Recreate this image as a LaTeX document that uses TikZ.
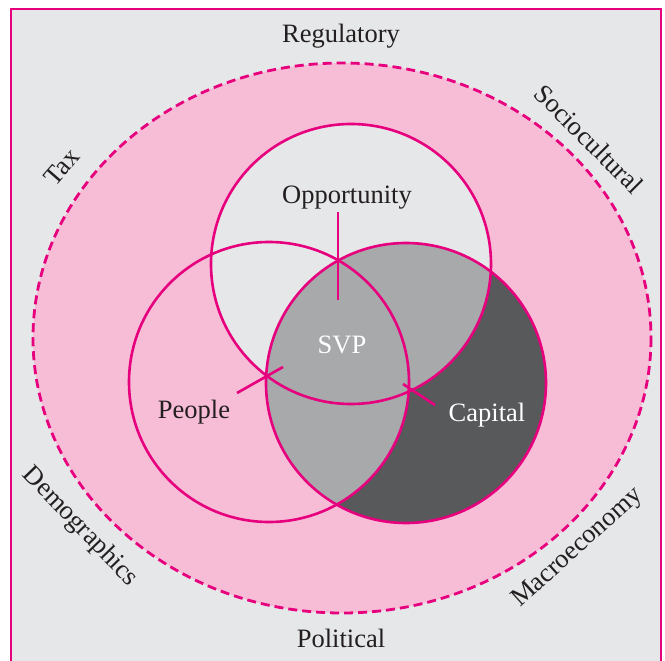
\documentclass[tikz,border=0pt]{standalone}
\usepackage{fontspec}
\setmainfont{Liberation Serif}
\definecolor{mag}{HTML}{E6007E}
\definecolor{bgray}{HTML}{E6E7E8}
\definecolor{pinkf}{HTML}{F7BDD7}
\definecolor{midgray}{HTML}{A7A9AB}
\definecolor{dgray}{HTML}{58595B}
\definecolor{ink}{HTML}{231F20}
\begin{document}
\begin{tikzpicture}[x=1pt,y=-1pt,
  ring/.style={draw=mag, line width=2.6pt},
  tickline/.style={draw=mag, line width=2.6pt},
  lbl/.style={font=\fontsize{26.5}{30}\selectfont, text=ink, inner sep=0pt},
  wlbl/.style={lbl, text=white}]
\useasboundingbox (0,0) rectangle (665,661);
% frame
\fill[bgray] (11,9) rectangle (661,675);
% ellipse
\fill[pinkf] (342,338) ellipse [x radius=309, y radius=275];
% opportunity circle fill
\fill[bgray] (351,264) circle [radius=140];
% capital circle fill
\fill[dgray] (406,383) circle [radius=140];
\begin{scope}
  \clip (406,383) circle [radius=140];
  \fill[midgray] (351,264) circle [radius=140];
  \fill[midgray] (269,382) circle [radius=140];
\end{scope}
% outlines
\draw[ring] (351,264) circle [radius=140];
\draw[ring] (269,382) circle [radius=140];
\draw[ring] (406,383) circle [radius=140];
\draw[mag, line width=2.8pt, dash pattern=on 9pt off 5pt] (342,338) ellipse [x radius=309, y radius=275];
\draw[mag, line width=2.8pt] (11,9) rectangle (661,675);
% tick coordinates
\coordinate (o1) at (338,212);
\coordinate (o2) at (338,300);
\coordinate (p1) at (237,393);
\coordinate (p2) at (283,367);
\coordinate (c1) at (403,384);
\coordinate (c2) at (435,405);
\draw[tickline] (o1) -- (o2);
\draw[tickline] (p1) -- (p2);
\draw[tickline] (c1) -- (c2);
% labels
\node[lbl, anchor=base] (reg) at (341,43) {Regulatory};
\node[lbl, anchor=base] (pol) at (341,647) {Political};
\node[lbl, anchor=base] (opp) at (347,203) {Opportunity};
\node[wlbl, anchor=base] (svp) at (342,353) {SVP};
\node[lbl, anchor=base] (ppl) at (194,418) {People};
\node[wlbl, anchor=base] (cap) at (487,421) {Capital};
\node[lbl, rotate=49] (tax) at (62,167) {Tax};
\node[lbl, rotate=-45] (soc) at (589,139) {Sociocultural};
\node[lbl, rotate=-46] (dem) at (80,527) {Demographics};
\node[lbl, rotate=42] (mac) at (578,548) {Macroeconomy};
\end{tikzpicture}
\end{document}
